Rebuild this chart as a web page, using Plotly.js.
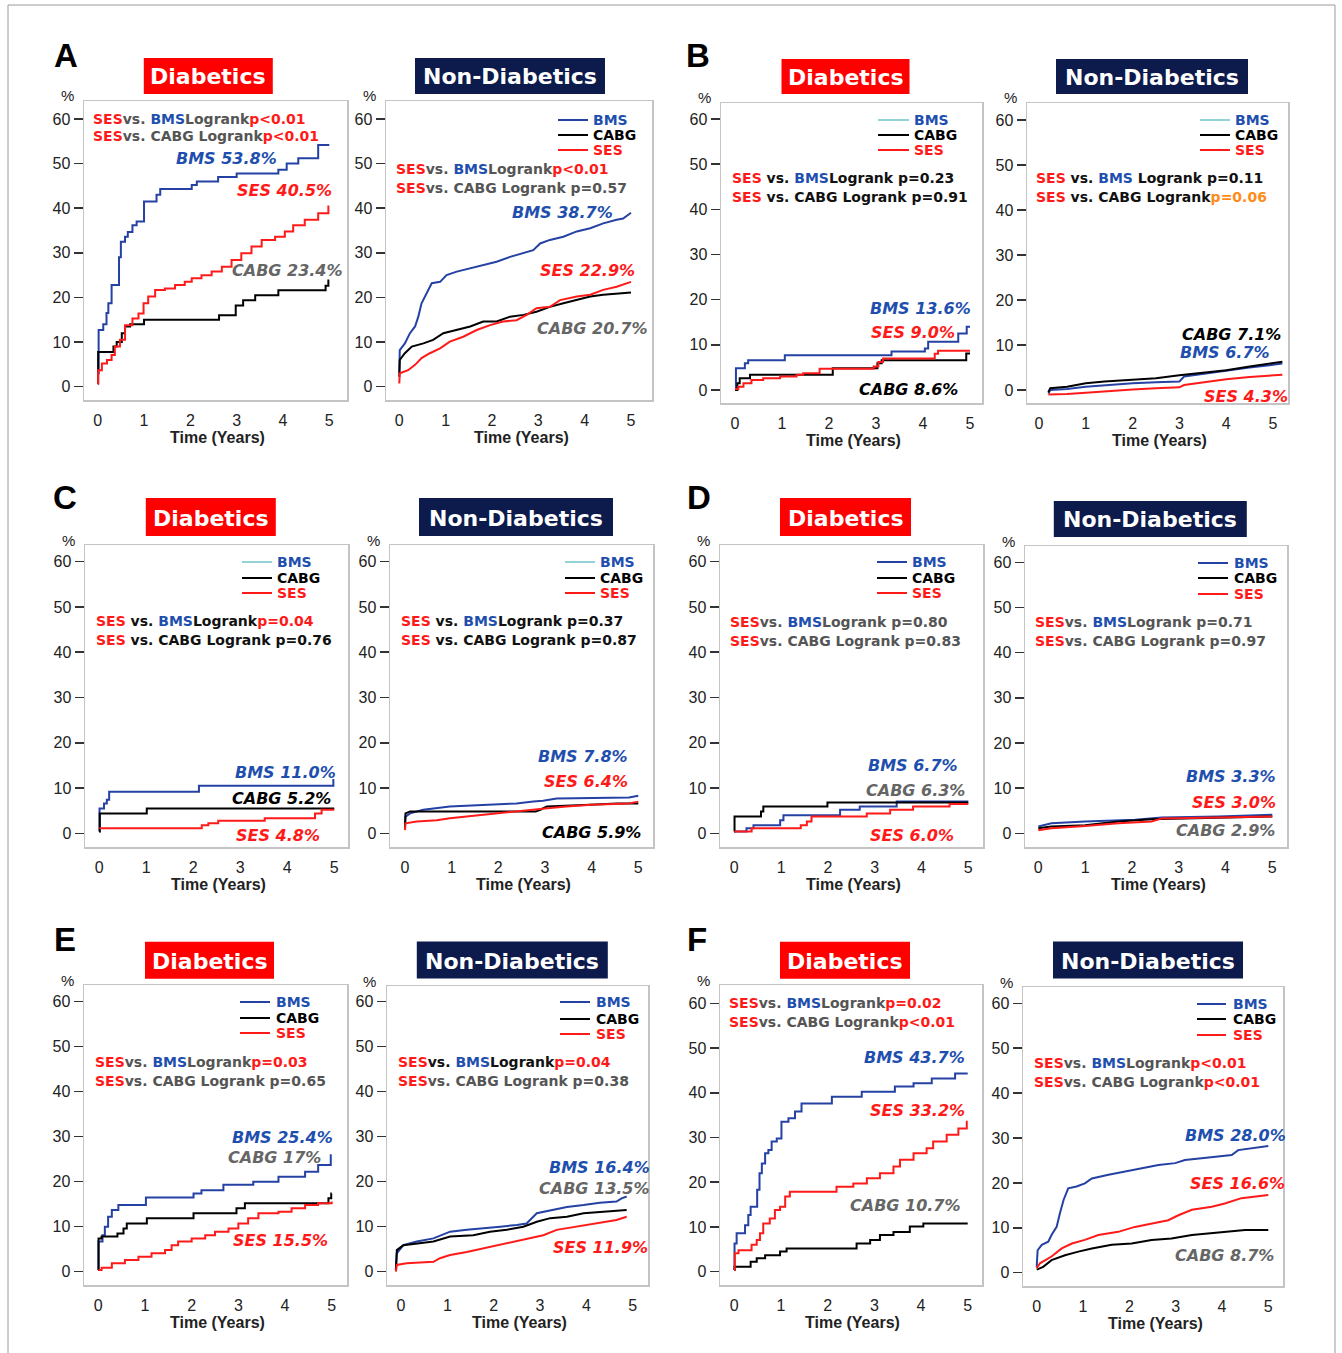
<!DOCTYPE html>
<html><head><meta charset="utf-8">
<script src="https://cdn.plot.ly/plotly-3.0.1.min.js"></script>
<style>html,body{margin:0;padding:0;background:#fff}#chart{width:1342px;height:1353px}</style>
</head><body><div id="chart"></div>
<script>
// ---------------- DATA (time in years, cumulative incidence in %) ----------------
// Panel A
const aDiaBmsT = [0, 0.02, 0.12, 0.19, 0.23, 0.3, 0.46, 0.5, 0.59, 0.65, 0.75, 0.84, 1.0, 1.27, 1.35, 2.03, 2.14, 2.6, 3.0, 3.9, 4.08, 4.33, 4.76, 5.0];
const aDiaBmsY = [3, 12.7, 14, 16.5, 18.7, 22.8, 29, 32.5, 33.6, 34.7, 36.2, 37, 41.5, 43, 44.3, 45.2, 46, 47, 47.8, 48.6, 50, 51.2, 54.2, 54.2];
const aDiaCabgT = [0, 0.01, 0.34, 0.41, 0.52, 0.59, 0.7, 1.0, 2.62, 2.98, 3.14, 3.4, 3.9, 4.92, 4.98, 5.0];
const aDiaCabgY = [0.7, 7.8, 9, 10, 12, 13.5, 14, 15, 16, 18.2, 19.4, 20.5, 21.6, 22.6, 23.8, 23.8];
const aDiaSesT = [0, 0.01, 0.09, 0.2, 0.3, 0.37, 0.48, 0.59, 0.75, 0.88, 0.99, 1.09, 1.24, 1.45, 1.67, 1.88, 2.03, 2.24, 2.46, 2.68, 2.89, 3.1, 3.32, 3.54, 3.83, 4.04, 4.22, 4.47, 4.76, 4.98, 5.0];
const aDiaSesY = [0.7, 3.7, 5.2, 6, 7.1, 9, 10.5, 13.8, 15.3, 16.4, 18.7, 20.2, 21.7, 22, 22.8, 23.5, 24.3, 25, 25.8, 26.9, 28.4, 29.9, 31.4, 32.9, 33.6, 34.8, 36.2, 37.4, 38.9, 40.4, 40.4];
const aNonBmsT = [0, 0.01, 0.12, 0.23, 0.34, 0.41, 0.48, 0.59, 0.7, 0.88, 1.02, 1.24, 1.53, 1.81, 2.1, 2.39, 2.68, 2.89, 3.04, 3.25, 3.54, 3.83, 4.12, 4.4, 4.69, 4.83, 5.0];
const aNonBmsY = [3, 8.2, 9.7, 12, 13.5, 15.7, 18.7, 20.9, 23.2, 23.5, 25, 25.8, 26.5, 27.3, 28, 29.1, 29.9, 30.6, 32.1, 32.9, 33.6, 34.8, 35.5, 36.6, 37.4, 37.7, 39];
const aNonCabgT = [0, 0.01, 0.12, 0.27, 0.52, 0.73, 0.95, 1.24, 1.53, 1.81, 2.1, 2.39, 2.68, 2.96, 3.25, 3.54, 3.83, 4.12, 4.4, 4.69, 5.0];
const aNonCabgY = [2.2, 6, 7.5, 9, 9.7, 10.5, 12, 12.7, 13.5, 14.6, 14.6, 15.7, 16.1, 16.8, 17.9, 18.7, 19.4, 20.2, 20.6, 20.9, 21.1];
const aNonSesT = [0, 0.01, 0.19, 0.34, 0.48, 0.66, 0.88, 1.09, 1.38, 1.67, 1.96, 2.24, 2.53, 2.75, 2.96, 3.25, 3.47, 3.83, 4.12, 4.4, 4.69, 5.0];
const aNonSesY = [0.7, 3, 3.7, 4.9, 6.4, 7.5, 8.6, 10.1, 11.2, 12.7, 13.8, 14.6, 14.9, 16.1, 17.6, 17.9, 19.4, 20.2, 20.6, 21.7, 22.4, 23.5];
// Panel B
const bDiaBmsT = [0, 0.02, 0.21, 0.28, 1.06, 3.33, 4.04, 4.11, 4.75, 4.93, 5.0];
const bDiaBmsY = [0, 4.8, 5.9, 6.6, 7.7, 8.5, 9.2, 10.7, 12.5, 14, 14];
const bDiaCabgT = [0, 0.05, 0.1, 0.32, 2.08, 3.03, 3.12, 4.92, 5.0];
const bDiaCabgY = [0, 1.5, 2.6, 3.4, 4.8, 5.9, 6.6, 8.1, 8.1];
const bDiaSesT = [0, 0.07, 0.18, 0.35, 0.6, 0.96, 1.31, 1.45, 1.8, 2.95, 3.05, 3.15, 4.25, 4.32, 5.0];
const bDiaSesY = [0.2, 0.7, 1.5, 2.2, 2.6, 3.0, 3.4, 3.7, 4.7, 5.2, 6.2, 7.0, 8.0, 8.7, 8.7];
const bNonBmsT = [0.2, 0.24, 0.6, 1.0, 1.5, 2.0, 2.5, 3.0, 3.1, 3.5, 4.0, 4.5, 5.0, 5.2];
const bNonBmsY = [-0.8, 0.0, 0.2, 0.7, 1.1, 1.5, 1.7, 1.9, 3.0, 3.6, 4.4, 5.0, 5.6, 5.9];
const bNonCabgT = [0.2, 0.24, 0.6, 1.0, 1.4, 2.0, 2.5, 3.0, 3.5, 4.0, 4.5, 5.0, 5.2];
const bNonCabgY = [-0.5, 0.4, 0.7, 1.5, 1.9, 2.2, 2.6, 3.3, 3.8, 4.4, 5.2, 6.1, 6.3];
const bNonSesT = [0.2, 0.6, 1.0, 1.5, 2.0, 2.5, 3.0, 3.1, 3.5, 4.0, 4.5, 5.0, 5.2];
const bNonSesY = [-1.0, -0.9, -0.6, -0.2, 0.1, 0.4, 0.6, 1.1, 1.7, 2.4, 2.9, 3.3, 3.4];
// Panel C
const cDiaBmsT = [0, 0.005, 0.1, 0.16, 0.21, 2.12, 4.98, 5.0];
const cDiaBmsY = [0.4, 5.5, 6.6, 7.4, 9.2, 10.5, 11.8, 11.8];
const cDiaCabgT = [0, 0.01, 1.01, 5.0];
const cDiaCabgY = [0.4, 4.4, 5.5, 5.5];
const cDiaSesT = [0, 2.18, 2.32, 2.53, 3.52, 4.59, 4.73, 5.0];
const cDiaSesY = [1.1, 1.8, 2.2, 2.8, 3.3, 4.4, 5.2, 5.2];
const cNonBmsT = [0, 0.01, 0.11, 0.39, 0.96, 1.68, 2.39, 2.75, 2.96, 3.25, 4.0, 4.8, 5.0];
const cNonBmsY = [1.5, 3.7, 4.4, 5.2, 5.9, 6.3, 6.6, 7.0, 7.2, 7.7, 7.8, 7.9, 8.3];
const cNonCabgT = [0, 0.01, 0.11, 2.8, 2.9, 3.04, 3.96, 4.54, 5.0];
const cNonCabgY = [1.1, 4.4, 4.8, 4.8, 5.2, 5.9, 6.3, 6.6, 6.6];
const cNonSesT = [0, 0.01, 0.25, 0.68, 0.96, 1.32, 1.68, 2.04, 2.39, 2.82, 3.11, 3.46, 4.0, 4.8, 5.0];
const cNonSesY = [0.7, 2.2, 2.6, 2.9, 3.3, 3.7, 4.0, 4.4, 4.8, 5.2, 5.6, 5.9, 6.3, 6.6, 7.0];
// Panel D
const dDiaBmsT = [0, 0.26, 0.41, 0.98, 1.05, 2.26, 2.68, 3.47, 5.0];
const dDiaBmsY = [0.4, 1.1, 1.8, 2.9, 4.0, 5.2, 5.9, 7.0, 7.0];
const dDiaCabgT = [0, 0.005, 0.57, 0.62, 1.99, 5.0];
const dDiaCabgY = [0.4, 3.7, 4.8, 5.9, 6.8, 6.8];
const dDiaSesT = [0, 0.37, 1.42, 1.55, 1.65, 2.83, 3.33, 3.82, 4.6, 5.0];
const dDiaSesY = [0.4, 1.1, 1.8, 2.6, 3.7, 4.4, 5.2, 5.9, 6.5, 6.5];
const dNonBmsT = [0, 0.28, 1.0, 2.07, 2.64, 3.85, 5.0];
const dNonBmsY = [1.5, 2.2, 2.6, 3.0, 3.5, 3.7, 4.1];
const dNonCabgT = [0, 0.28, 1.0, 1.71, 2.42, 3.13, 5.0];
const dNonCabgY = [1.1, 1.5, 1.8, 2.6, 3.1, 3.3, 3.7];
const dNonSesT = [0, 0.28, 1.0, 1.71, 2.42, 2.64, 3.85, 5.0];
const dNonSesY = [0.7, 1.1, 1.6, 2.2, 2.6, 3.3, 3.5, 3.7];
// Panel E
const eDiaBmsT = [0, 0.005, 0.09, 0.14, 0.21, 0.29, 0.43, 1.02, 2.04, 2.21, 2.68, 3.32, 3.86, 4.43, 4.71, 4.98, 5.0];
const eDiaBmsY = [0.4, 6.7, 8.1, 10, 12.2, 13.7, 14.8, 16.5, 17.4, 18.1, 19.3, 20, 21.1, 22.2, 23.7, 25.9, 25.9];
const eDiaCabgT = [0, 0.005, 0.07, 0.41, 0.54, 0.61, 1.04, 2.04, 2.96, 3.14, 4.93, 4.99, 5.0];
const eDiaCabgY = [0.4, 7.4, 7.8, 8.5, 9.6, 10.7, 11.9, 13, 14.1, 15.2, 16.3, 17.4, 17.4];
const eDiaSesT = [0, 0.07, 0.29, 0.57, 0.86, 1.14, 1.43, 1.57, 1.71, 2.0, 2.29, 2.5, 2.79, 3.0, 3.21, 3.43, 3.86, 4.14, 4.43, 4.71, 5.0];
const eDiaSesY = [0.4, 0.9, 1.9, 2.6, 3.3, 4.1, 4.8, 5.9, 6.7, 7.4, 8.1, 8.9, 9.6, 10.7, 11.9, 13, 13.3, 14.1, 14.8, 15.2, 15.6];
const eNonBmsT = [-0.11, -0.09, 0.05, 0.34, 0.7, 1.06, 1.42, 1.78, 2.14, 2.5, 2.71, 2.93, 3.22, 3.58, 3.94, 4.29, 4.65, 4.76, 4.87];
const eNonBmsY = [0.4, 4.1, 5.9, 6.7, 7.4, 8.9, 9.3, 9.6, 10.0, 10.4, 10.7, 13.0, 13.7, 14.4, 14.8, 15.3, 15.6, 16.3, 16.7];
const eNonCabgT = [-0.11, -0.09, 0.05, 0.34, 0.7, 1.06, 1.56, 1.92, 2.28, 2.64, 2.93, 3.22, 3.58, 3.94, 4.29, 4.87];
const eNonCabgY = [0.4, 4.8, 5.9, 6.3, 6.7, 7.8, 8.1, 8.9, 9.3, 10.0, 11.1, 11.9, 12.2, 13.0, 13.3, 13.7];
const eNonSesT = [-0.11, -0.09, 0.12, 0.7, 0.84, 1.06, 1.42, 1.78, 2.14, 2.5, 2.78, 3.07, 3.36, 3.79, 4.22, 4.65, 4.87];
const eNonSesY = [0, 1.5, 1.9, 2.2, 3.0, 3.7, 4.4, 5.2, 5.9, 6.7, 7.4, 8.1, 9.3, 10.0, 10.7, 11.5, 12.2];
// Panel F
const fDiaBmsT = [0, 0.005, 0.05, 0.23, 0.3, 0.35, 0.49, 0.54, 0.59, 0.66, 0.73, 0.8, 0.91, 1.01, 1.16, 1.3, 1.44, 2.09, 2.73, 3.44, 3.84, 4.23, 4.73, 5.0];
const fDiaBmsY = [0.4, 6.3, 8.6, 10.4, 12.7, 14.5, 18.3, 22, 24.2, 26.5, 27.2, 29.1, 29.8, 33.5, 34.3, 35.8, 37.6, 39.1, 40.2, 41.4, 42.1, 43.2, 44.3, 44.3];
const fDiaCabgT = [0, 0.005, 0.35, 0.48, 0.66, 0.98, 1.12, 2.62, 2.91, 3.12, 3.41, 3.76, 4.05, 5.0];
const fDiaCabgY = [0.4, 1.1, 2.2, 3.0, 3.7, 4.5, 5.2, 6.3, 7.1, 8.2, 8.9, 10.1, 10.8, 10.8];
const fDiaSesT = [0, 0.01, 0.09, 0.37, 0.48, 0.55, 0.62, 0.76, 0.87, 0.98, 1.09, 1.19, 2.19, 2.55, 2.84, 3.12, 3.41, 3.55, 3.84, 4.12, 4.26, 4.55, 4.8, 4.98, 5.0];
const fDiaSesY = [0.4, 4.1, 4.8, 6.0, 7.1, 8.6, 10.8, 11.9, 13.8, 14.5, 16.8, 17.9, 19.0, 19.7, 20.9, 22.0, 23.5, 25.0, 26.5, 27.6, 29.1, 30.6, 32.0, 33.5, 33.5];
const fNonBmsT = [0, 0.02, 0.11, 0.25, 0.32, 0.43, 0.5, 0.58, 0.68, 0.86, 1.04, 1.19, 1.55, 1.91, 2.27, 2.63, 2.99, 3.2, 3.56, 3.92, 4.21, 4.35, 4.64, 5.0];
const fNonBmsY = [1.3, 5.0, 6.2, 6.9, 8.4, 10.2, 13.2, 16.2, 18.8, 19.2, 19.9, 21.0, 21.8, 22.5, 23.2, 24.0, 24.4, 25.1, 25.5, 25.8, 26.2, 27.3, 27.7, 28.2];
const fNonCabgT = [0, 0.14, 0.32, 0.61, 0.9, 1.19, 1.62, 2.05, 2.48, 2.91, 3.35, 3.78, 4.21, 4.5, 5.0];
const fNonCabgY = [0.7, 1.3, 2.8, 3.9, 4.7, 5.4, 6.2, 6.5, 7.3, 7.6, 8.4, 8.8, 9.1, 9.5, 9.5];
const fNonSesT = [0, 0.07, 0.32, 0.54, 0.76, 1.04, 1.33, 1.76, 2.12, 2.48, 2.84, 3.06, 3.35, 3.78, 4.06, 4.42, 4.71, 5.0];
const fNonSesY = [1.0, 2.1, 3.6, 5.4, 6.5, 7.3, 8.4, 9.1, 10.2, 11.0, 11.7, 12.8, 14.0, 14.7, 15.4, 16.6, 16.9, 17.3];

// tick labels and texts
const xTicks = [0, 1, 2, 3, 4, 5];
const yTicks = [0, 10, 20, 30, 40, 50, 60];
const panelLetters = ['A', 'B', 'C', 'D', 'E', 'F'];
const groupTitles = ['Diabetics', 'Non-Diabetics'];
const seriesNames = ['BMS', 'CABG', 'SES'];
const finalLabels = [
  ['BMS 53.8%', 'CABG 23.4%', 'SES 40.5%'], ['BMS 38.7%', 'CABG 20.7%', 'SES 22.9%'],
  ['BMS 13.6%', 'CABG 8.6%', 'SES 9.0%'], ['BMS 6.7%', 'CABG 7.1%', 'SES 4.3%'],
  ['BMS 11.0%', 'CABG 5.2%', 'SES 4.8%'], ['BMS 7.8%', 'CABG 5.9%', 'SES 6.4%'],
  ['BMS 6.7%', 'CABG 6.3%', 'SES 6.0%'], ['BMS 3.3%', 'CABG 2.9%', 'SES 3.0%'],
  ['BMS 25.4%', 'CABG 17%', 'SES 15.5%'], ['BMS 16.4%', 'CABG 13.5%', 'SES 11.9%'],
  ['BMS 43.7%', 'CABG 10.7%', 'SES 33.2%'], ['BMS 28.0%', 'CABG 8.7%', 'SES 16.6%']
];
// stats lines: segments [colorKey, text]
const statLines = [
  [[['r','SES'],['g','vs. '],['b','BMS'],['g','Logrank'],['r','p&lt;0.01']], [['r','SES'],['g','vs. CABG Logrank'],['r','p&lt;0.01']]],
  [[['r','SES'],['g','vs. '],['b','BMS'],['g','Logrank'],['r','p&lt;0.01']], [['r','SES'],['g','vs. CABG Logrank p=0.57']]],
  [[['r','SES'],['k',' vs. '],['b','BMS'],['k','Logrank p=0.23']], [['r','SES'],['k',' vs. CABG Logrank p=0.91']]],
  [[['r','SES'],['k',' vs. '],['b','BMS'],['k',' Logrank p=0.11']], [['r','SES'],['k',' vs. CABG Logrank'],['o','p=0.06']]],
  [[['r','SES'],['k',' vs. '],['b','BMS'],['k','Logrank'],['r','p=0.04']], [['r','SES'],['k',' vs. CABG Logrank p=0.76']]],
  [[['r','SES'],['k',' vs. '],['b','BMS'],['k','Logrank p=0.37']], [['r','SES'],['k',' vs. CABG Logrank p=0.87']]],
  [[['r','SES'],['g','vs. '],['b','BMS'],['g','Logrank p=0.80']], [['r','SES'],['g','vs. CABG Logrank p=0.83']]],
  [[['r','SES'],['g','vs. '],['b','BMS'],['g','Logrank p=0.71']], [['r','SES'],['g','vs. CABG Logrank p=0.97']]],
  [[['r','SES'],['g','vs. '],['b','BMS'],['g','Logrank'],['r','p=0.03']], [['r','SES'],['g','vs. CABG Logrank p=0.65']]],
  [[['r','SES'],['k','vs. '],['b','BMS'],['k','Logrank'],['r','p=0.04']], [['r','SES'],['g','vs. CABG Logrank p=0.38']]],
  [[['r','SES'],['g','vs. '],['b','BMS'],['g','Logrank'],['r','p=0.02']], [['r','SES'],['g','vs. CABG Logrank'],['r','p&lt;0.01']]],
  [[['r','SES'],['g','vs. '],['b','BMS'],['g','Logrank'],['r','p&lt;0.01']], [['r','SES'],['g','vs. CABG Logrank'],['r','p&lt;0.01']]]
];

const series = [
  [[aDiaBmsT, aDiaBmsY], [aDiaCabgT, aDiaCabgY], [aDiaSesT, aDiaSesY]],
  [[aNonBmsT, aNonBmsY], [aNonCabgT, aNonCabgY], [aNonSesT, aNonSesY]],
  [[bDiaBmsT, bDiaBmsY], [bDiaCabgT, bDiaCabgY], [bDiaSesT, bDiaSesY]],
  [[bNonBmsT, bNonBmsY], [bNonCabgT, bNonCabgY], [bNonSesT, bNonSesY]],
  [[cDiaBmsT, cDiaBmsY], [cDiaCabgT, cDiaCabgY], [cDiaSesT, cDiaSesY]],
  [[cNonBmsT, cNonBmsY], [cNonCabgT, cNonCabgY], [cNonSesT, cNonSesY]],
  [[dDiaBmsT, dDiaBmsY], [dDiaCabgT, dDiaCabgY], [dDiaSesT, dDiaSesY]],
  [[dNonBmsT, dNonBmsY], [dNonCabgT, dNonCabgY], [dNonSesT, dNonSesY]],
  [[eDiaBmsT, eDiaBmsY], [eDiaCabgT, eDiaCabgY], [eDiaSesT, eDiaSesY]],
  [[eNonBmsT, eNonBmsY], [eNonCabgT, eNonCabgY], [eNonSesT, eNonSesY]],
  [[fDiaBmsT, fDiaBmsY], [fDiaCabgT, fDiaCabgY], [fDiaSesT, fDiaSesY]],
  [[fNonBmsT, fNonBmsY], [fNonCabgT, fNonCabgY], [fNonSesT, fNonSesY]]
];

// ---------------- LAYOUT GEOMETRY (pixels) ----------------
const W = 1342, H = 1353;
// [boxLeft, boxRight, boxTop, boxBottom, px of x=0, px of x=5, px of y=0, px of y=60]
const geo = [
  [84, 347, 101, 400, 97.7, 329.3, 386.7, 119],
  [386, 652, 101, 400, 399.3, 631, 386.7, 119],
  [721, 982, 103, 403, 735, 970, 390, 119],
  [1027, 1288, 103, 403, 1039, 1273, 390, 120],
  [85, 348, 545, 847, 99.3, 334.3, 833.3, 561.7],
  [390, 653, 545, 847, 405, 638.3, 833.3, 561.7],
  [720, 983, 545, 847, 734.3, 968.3, 833.3, 561.7],
  [1025, 1287, 546, 847, 1038.3, 1272.3, 833.3, 562.3],
  [84, 347, 985, 1285, 98.3, 331.7, 1271.7, 1001.7],
  [387, 648, 986, 1285, 401, 632.7, 1271.7, 1001.7],
  [720, 982, 985, 1285, 734.3, 967.7, 1271.7, 1003.3],
  [1023, 1283, 987, 1286, 1036.7, 1268.3, 1272.7, 1003.3]
];
// title boxes [cx, cy, w, h]
const titleBox = [
  [208.3, 76, 129, 36], [510, 76, 190, 36], [845.5, 76.5, 128, 35], [1152, 76.5, 192, 35],
  [210.8, 517, 130, 38], [516, 517, 194, 38], [845.5, 517, 131, 38], [1150.3, 519, 193, 36],
  [209.5, 960.3, 129, 37], [512.3, 960, 191, 37], [845, 960.3, 130, 37], [1148, 960, 190, 37]
];
const letterPos = [[66, 56], [698, 56], [65, 497], [699, 497], [65, 940], [697, 940]];
// stats text [left, y1, y2]
const statPos = [
  [91, 119, 136], [394, 169, 188], [730, 178, 197], [1034, 178, 197],
  [94, 621, 640], [399, 621, 640], [728, 622, 641], [1033, 622, 641],
  [93, 1062, 1081], [396, 1062, 1081], [727, 1003, 1022], [1032, 1063, 1082]
];
// final labels positions [right, y] for BMS, CABG, SES
const finalPos = [
  [[279, 158], [345, 270], [334, 191]], [[615, 212], [650, 328], [637, 270]],
  [[973, 308], [960, 389], [957, 332]], [[1272, 352], [1283, 335], [1290, 396]],
  [[338, 772], [333, 798], [322, 835]], [[630, 756], [643, 832], [630, 781]],
  [[960, 765], [967, 790], [956, 835]], [[1278, 777], [1277, 831], [1278, 802]],
  [[335, 1137], [323, 1157], [330, 1240]], [[652, 1167], [652, 1188], [650, 1247]],
  [[967, 1057], [963, 1205], [967, 1110]], [[1288, 1135], [1276, 1255], [1287, 1183]]
];
const cabgLabelBlack = [false, false, true, true, true, true, false, false, false, false, false, false];
// legend [lineX0, lineX1, textX, y1, y2, y3], null = none
const legPos = [
  null, [558, 588, 591, 120, 135, 150], [878, 909, 912, 120, 135, 150], [1200, 1230, 1233, 120, 135, 150],
  [242, 272, 275, 562, 578, 593], [565, 595, 598, 562, 578, 593], [877, 907, 910, 562, 578, 593], [1198, 1228, 1232, 563, 578, 594],
  [240, 270, 274, 1002, 1018, 1033], [560, 590, 594, 1002, 1019, 1034], null, [1197, 1226, 1231, 1004, 1019, 1035]
];
const legBmsCyan = [false, false, true, true, true, true, false, false, false, false, false, false];

// ---------------- STYLE ----------------
const C = { r: '#ff1a1a', g: '#555555', b: '#1f4fae', k: '#111111', o: '#ff8c1a' };
const lineColors = ['#2441a3', '#000000', '#ff1a1a'];
const txtColors = ['#1f4fae', '#000000', '#ff1a1a'];
const smoothPanels = [false, true, false, true, false, true, false, true, false, true, false, true];

const px = x => x / W, py = y => 1 - y / H;
const traces = [], anns = [], shapes = [];
const layout = {
  width: W, height: H, margin: { l: 0, r: 0, t: 0, b: 0 },
  paper_bgcolor: '#fff', plot_bgcolor: '#fff', showlegend: false
};
const tickFont = { family: 'Liberation Sans, Arial, sans-serif', size: 16, color: '#222' };

geo.forEach((g, i) => {
  const [l, r, t, b, x0, x5, y0, y60] = g;
  const sx = (x5 - x0) / 5, sy = (y0 - y60) / 60;
  const n = i + 1, sfx = n === 1 ? '' : String(n);
  layout['xaxis' + sfx] = {
    domain: [px(l), px(r)], range: [(l - x0) / sx, (r - x0) / sx], anchor: 'y' + sfx,
    showline: true, mirror: true, linecolor: '#c4c4c4', linewidth: 1.5,
    ticks: 'outside', ticklen: 5, tickcolor: 'rgba(0,0,0,0)', tickvals: xTicks,
    tickfont: tickFont, showgrid: false, zeroline: false, fixedrange: true
  };
  layout['yaxis' + sfx] = {
    domain: [py(b), py(t)], range: [(y0 - b) / sy, (y0 - t) / sy], anchor: 'x' + sfx,
    showline: true, mirror: true, linecolor: '#c4c4c4', linewidth: 1.5,
    ticks: 'outside', ticklen: 9, tickwidth: 1.5, tickcolor: '#333', tickvals: yTicks,
    tickfont: tickFont, showgrid: false, zeroline: false, fixedrange: true
  };
  // curves
  series[i].forEach((s, k) => {
    traces.push({
      type: 'scatter', mode: 'lines', x: s[0], y: s[1], name: seriesNames[k],
      xaxis: 'x' + sfx, yaxis: 'y' + sfx,
      line: { color: lineColors[k], width: 2, shape: smoothPanels[i] ? 'linear' : 'hv' },
      hoverinfo: 'skip'
    });
  });
  // title box
  const tb = titleBox[i], isDia = i % 2 === 0;
  shapes.push({ type: 'rect', xref: 'paper', yref: 'paper', x0: px(tb[0] - tb[2] / 2), x1: px(tb[0] + tb[2] / 2),
    y0: py(tb[1] + tb[3] / 2), y1: py(tb[1] - tb[3] / 2), fillcolor: isDia ? '#ff0000' : '#0c1a4c', line: { width: 0 } });
  anns.push({ xref: 'paper', yref: 'paper', x: px(tb[0]), y: py(tb[1] + 1), xanchor: 'center', yanchor: 'middle', showarrow: false,
    text: '<b>' + groupTitles[i % 2] + '</b>', font: { family: 'DejaVu Sans, Verdana, sans-serif', size: 22, color: '#fff' } });
  // percent sign
  anns.push({ xref: 'paper', yref: 'paper', x: px(l - 17), y: py(t - 5), xanchor: 'center', yanchor: 'middle', showarrow: false,
    text: '%', font: { family: 'Liberation Sans, Arial, sans-serif', size: 15, color: '#222' } });
  // x axis title
  anns.push({ xref: 'paper', yref: 'paper', x: px((l + r) / 2 + 2), y: py(b + 37), xanchor: 'center', yanchor: 'middle', showarrow: false,
    text: '<b>Time (Years)</b>', font: { family: 'Liberation Sans, Arial, sans-serif', size: 16, color: '#222' } });
  // stats
  const sp = statPos[i];
  statLines[i].forEach((line, j) => {
    const txt = line.map(([c, s]) => '<span style="color:' + C[c] + '">' + s + '</span>').join('');
    anns.push({ xref: 'paper', yref: 'paper', x: px(sp[0]), y: py(sp[1 + j]), xanchor: 'left', yanchor: 'middle', showarrow: false,
      text: '<b>' + txt + '</b>', font: { family: 'DejaVu Sans, Verdana, sans-serif', size: 14, color: '#555' } });
  });
  // final labels
  finalLabels[i].forEach((lab, k) => {
    const fp = finalPos[i][k];
    let col = txtColors[k];
    if (k === 1) col = cabgLabelBlack[i] ? '#000' : '#666';
    anns.push({ xref: 'paper', yref: 'paper', x: px(fp[0]), y: py(fp[1]), xanchor: 'right', yanchor: 'middle', showarrow: false,
      text: '<b><i>' + lab + '</i></b>', font: { family: 'DejaVu Sans, Verdana, sans-serif', size: 16, color: col } });
  });
  // legend
  const lg = legPos[i];
  if (lg) {
    seriesNames.forEach((nm, k) => {
      const lc = (k === 0 && legBmsCyan[i]) ? '#93d3d6' : lineColors[k];
      shapes.push({ type: 'line', xref: 'paper', yref: 'paper', x0: px(lg[0]), x1: px(lg[1]), y0: py(lg[3 + k]), y1: py(lg[3 + k]),
        line: { color: lc, width: 2 } });
      anns.push({ xref: 'paper', yref: 'paper', x: px(lg[2]), y: py(lg[3 + k]), xanchor: 'left', yanchor: 'middle', showarrow: false,
        text: '<b>' + nm + '</b>', font: { family: 'DejaVu Sans, Verdana, sans-serif', size: 14, color: txtColors[k] } });
    });
  }
});

panelLetters.forEach((L, j) => {
  anns.push({ xref: 'paper', yref: 'paper', x: px(letterPos[j][0]), y: py(letterPos[j][1]), xanchor: 'center', yanchor: 'middle', showarrow: false,
    text: '<b>' + L + '</b>', font: { family: 'Liberation Sans, Arial, sans-serif', size: 33, color: '#000' } });
});

// outer frame
shapes.push({ type: 'rect', xref: 'paper', yref: 'paper', x0: px(8), x1: px(1335), y0: py(1362), y1: py(5),
  line: { color: '#9a9a9a', width: 1 }, fillcolor: 'rgba(0,0,0,0)' });

layout.annotations = anns;
layout.shapes = shapes;

Plotly.newPlot('chart', traces, layout, { staticPlot: true, displayModeBar: false });
</script></body></html>
